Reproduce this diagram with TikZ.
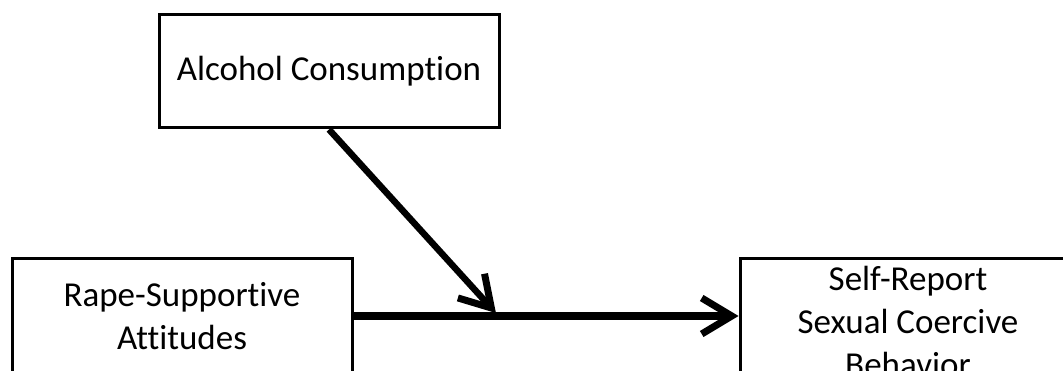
\documentclass[tikz,border=0pt]{standalone}
\usepackage{fontspec}
\setmainfont{Carlito}[Ligatures=NoCommon]
\usetikzlibrary{positioning}
\usetikzlibrary{arrows.meta}

\begin{document}
\begin{tikzpicture}[x=1pt, y=-1pt,
    box/.style={draw, line width=3pt, align=center, inner sep=0pt,
      font=\fontsize{35}{43}\selectfont},
    path arrow/.style={line width=8.5pt, -{Straight Barb[length=30pt, width=36pt, line width=7pt]}}]
    \useasboundingbox (0,0) rectangle (1063,371);

    \node[box, minimum width=340pt, minimum height=113pt] (alcohol) at (329,71.5) {Alcohol Consumption};
    \node[box, minimum width=340pt, minimum height=114pt] (attitudes) at (182,316) {Rape-Supportive\\Attitudes};
    \node[box, minimum width=336pt, minimum height=124pt, right=385pt of attitudes.north east, anchor=north west] (coercion) {Self-Report\\Sexual Coercive\\Behavior};

    \draw[path arrow] (attitudes.east) -- coordinate[pos=0.377] (moderation) (attitudes.east -| coercion.west);
    \draw[path arrow, line width=6.5pt, shorten >=4pt] (alcohol.south) -- (moderation);
  \end{tikzpicture}
\end{document}
